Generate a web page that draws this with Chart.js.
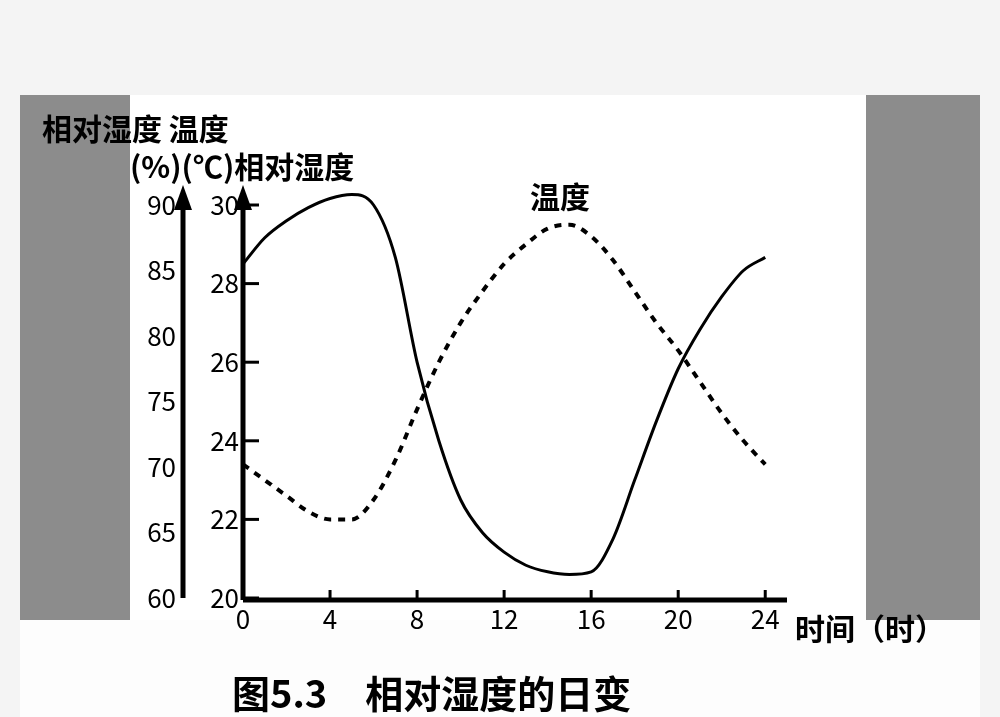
<!DOCTYPE html>
<html>
<head>
<meta charset="utf-8">
<script src="https://cdn.jsdelivr.net/npm/chart.js@4"></script>
<style>
  html, body { margin: 0; padding: 0; background: #f4f4f4; }
  #wrap { width: 1000px; height: 717px; }
</style>
</head>
<body>
<div id="wrap"><canvas id="c" width="1000" height="717"></canvas></div>
<script>
// 数据
const hours = [0,1,2,3,4,5,6,7,8,9,10,11,12,13,14,15,16,17,18,19,20,21,22,23,24];
const humidity = [85.5,87.5,88.8,89.8,90.5,90.8,90,86,78,72,67.5,65,63.5,62.5,62,61.8,62,64.5,69,73.5,77.5,80.5,83,85,86];
const temperature = [23.4,23,22.6,22.2,22,22,22.5,23.5,24.8,26,27,27.8,28.5,29,29.4,29.5,29.2,28.6,27.8,27,26.3,25.5,24.7,24,23.4];
const xTicks = [0,4,8,12,16,20,24];
const humTicks = [60,65,70,75,80,85,90];
const tempTicks = [20,22,24,26,28,30];

const font = '"Noto Sans CJK SC", sans-serif';

// 背景与坐标轴
const decor = {
  id: 'decor',
  beforeDraw(chart) {
    const ctx = chart.ctx;
    ctx.save();
    ctx.fillStyle = '#f4f4f4';
    ctx.fillRect(0, 0, 1000, 717);
    ctx.fillStyle = '#fdfdfd';
    ctx.fillRect(20, 95, 960, 622);
    ctx.fillStyle = '#8c8c8c';
    ctx.fillRect(20, 95, 110, 525);
    ctx.fillRect(866, 95, 114, 525);
    ctx.fillStyle = '#ffffff';
    ctx.fillRect(130, 95, 736, 525);
    ctx.restore();
  },
  afterDraw(chart) {
    const ctx = chart.ctx;
    const x = chart.scales.x, yT = chart.scales.y, yH = chart.scales.yh;
    const x0 = x.getPixelForValue(0), base = yT.getPixelForValue(20);
    const hx = 183;
    ctx.save();
    ctx.strokeStyle = '#000'; ctx.fillStyle = '#000';
    ctx.lineWidth = 5;
    // 轴线
    ctx.beginPath();
    ctx.moveTo(hx, base); ctx.lineTo(hx, 195);
    ctx.moveTo(x0, base + 2); ctx.lineTo(x0, 195);
    ctx.moveTo(x0, base + 2); ctx.lineTo(787, base + 2);
    ctx.stroke();
    [hx, x0].forEach(px => {
      ctx.beginPath();
      ctx.moveTo(px, 185); ctx.lineTo(px - 9, 210); ctx.lineTo(px + 9, 210);
      ctx.closePath(); ctx.fill();
    });
    ctx.lineWidth = 3;
    ctx.font = '26px ' + font;
    ctx.textBaseline = 'middle';
    ctx.textAlign = 'right';
    humTicks.forEach(v => ctx.fillText(String(v), 176, yH.getPixelForValue(v)));
    tempTicks.forEach(v => {
      const py = yT.getPixelForValue(v);
      ctx.fillText(String(v), x0 - 4, py);
      ctx.beginPath(); ctx.moveTo(x0, py); ctx.lineTo(x0 + 16, py); ctx.stroke();
    });
    ctx.textAlign = 'center'; ctx.textBaseline = 'top';
    xTicks.forEach(v => {
      const px = x.getPixelForValue(v);
      ctx.fillText(String(v), px, 606);
      ctx.beginPath(); ctx.moveTo(px, base + 2); ctx.lineTo(px, base - 8); ctx.stroke();
    });
    ctx.textAlign = 'left'; ctx.textBaseline = 'alphabetic';
    ctx.font = 'bold 30px ' + font;
    ctx.fillText('相对湿度 温度', 42, 140);
    ctx.fillText('(%)(℃)相对湿度', 130, 178);
    ctx.fillText('温度', 530, 208);
    ctx.fillText('时间（时）', 795, 640);
    ctx.font = 'bold 38px ' + font;
    ctx.fillText('图5.3　相对湿度的日变', 232, 708);
    ctx.restore();
  }
};

new Chart(document.getElementById('c'), {
  type: 'line',
  data: {
    datasets: [
      {
        label: '相对湿度',
        data: hours.map((h, i) => ({ x: h, y: humidity[i] })),
        yAxisID: 'yh',
        borderColor: '#000', borderWidth: 3, clip: false,
        pointRadius: 0, cubicInterpolationMode: 'monotone'
      },
      {
        label: '温度',
        data: hours.map((h, i) => ({ x: h, y: temperature[i] })),
        yAxisID: 'y',
        borderColor: '#000', borderWidth: 4, borderDash: [7, 7], clip: false,
        pointRadius: 0, cubicInterpolationMode: 'monotone'
      }
    ]
  },
  options: {
    responsive: false,
    animation: false,
    layout: { padding: { left: 243, right: 213, top: 205, bottom: 119 } },
    plugins: { legend: { display: false }, tooltip: { enabled: false } },
    scales: {
      x: { type: 'linear', min: 0, max: 25, display: false },
      y: { min: 20, max: 30, display: false },
      yh: { min: 60, max: 90, display: false }
    }
  },
  plugins: [decor]
});
</script>
</body>
</html>
